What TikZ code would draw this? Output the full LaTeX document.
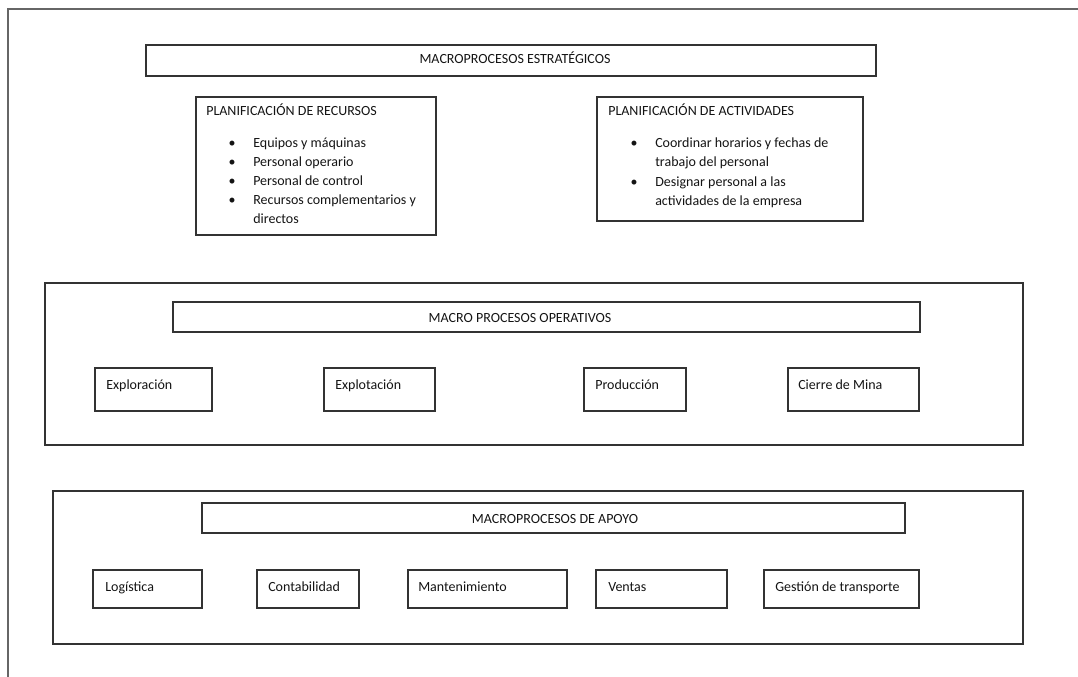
\documentclass[tikz,border=0pt]{standalone}
\usepackage{fontspec}
\setmainfont{Carlito}
\usetikzlibrary{fit}
\tikzset{
  boxst/.style={draw=black!80, line width=1.1pt, inner sep=0pt},
  frame/.style={draw=black!60, line width=1.5pt},
  txt/.style={anchor=base west, inner sep=0pt, font=\fontsize{10.5}{12}\selectfont, text=black!92},
  ctxt/.style={anchor=base, inner sep=0pt, font=\fontsize{10.5}{12}\selectfont, text=black!92},
  bul/.style={anchor=base, inner sep=0pt, font=\fontsize{10.5}{12}\selectfont, text=black!92}
}
\begin{document}
\begin{tikzpicture}[x=0.75pt, y=-0.75pt]
\useasboundingbox (0,0) rectangle (1078,677);
% outer frame (top and left sides only)
\coordinate (ftr) at (1078,9);
\coordinate (ftl) at (8,9);
\coordinate (fbl) at (8,677);
\draw[frame] (ftr) -- (ftl) -- (fbl);

% ---------- strategic ----------
\node[boxst, fit={(146,45) (876,76)}] (estr) {};
\node[ctxt] (estrT) at (515,64) {MACROPROCESOS ESTRATÉGICOS};

\node[boxst, fit={(196,97) (436,235)}] (recursos) {};
\node[txt] (recT) at (206,116) {PLANIFICACIÓN DE RECURSOS};
\node[bul] (rb1) at (232,148) {\textbullet};
\node[txt] (r1) at (253,148) {Equipos y máquinas};
\node[bul] (rb2) at (232,167) {\textbullet};
\node[txt] (r2) at (253,167) {Personal operario};
\node[bul] (rb3) at (232,186) {\textbullet};
\node[txt] (r3) at (253,186) {Personal de control};
\node[bul] (rb4) at (232,205) {\textbullet};
\node[txt] (r4) at (253,205) {Recursos complementarios y};
\node[txt] (r5) at (253,224) {directos};

\node[boxst, fit={(597,97) (863,221)}] (actividades) {};
\node[txt] (actT) at (608,116) {PLANIFICACIÓN DE ACTIVIDADES};
\node[bul] (ab1) at (634,148) {\textbullet};
\node[txt] (a1) at (655,148) {Coordinar horarios y fechas de};
\node[txt] (a2) at (655,167) {trabajo del personal};
\node[bul] (ab2) at (634,187) {\textbullet};
\node[txt] (a3) at (655,187) {Designar personal a las};
\node[txt] (a4) at (655,206) {actividades de la empresa};

% ---------- operative ----------
\node[boxst, fit={(45,283) (1023,445)}] (oper) {};
\node[boxst, fit={(173,302) (920,332)}] (operH) {};
\node[ctxt] (operT) at (520,322) {MACRO PROCESOS OPERATIVOS};

\node[boxst, fit={(95,368) (212,411)}] (explor) {};
\node[txt] (explorT) at (106,389) {Exploración};
\node[boxst, fit={(324,368) (435,411)}] (explot) {};
\node[txt] (explotT) at (335,389) {Explotación};
\node[boxst, fit={(584,368) (686,411)}] (prod) {};
\node[txt] (prodT) at (595,389) {Producción};
\node[boxst, fit={(788,368) (919,411)}] (cierre) {};
\node[txt] (cierreT) at (798,389) {Cierre de Mina};

% ---------- support ----------
\node[boxst, fit={(53,491) (1023,644)}] (apoyo) {};
\node[boxst, fit={(202,503) (905,533)}] (apoyoH) {};
\node[ctxt] (apoyoT) at (555,523) {MACROPROCESOS DE APOYO};

\node[boxst, fit={(93,570) (202,608)}] (log) {};
\node[txt] (logT) at (105,591) {Logística};
\node[boxst, fit={(257,570) (359,608)}] (cont) {};
\node[txt] (contT) at (268,591) {Contabilidad};
\node[boxst, fit={(408,570) (567,608)}] (mant) {};
\node[txt] (mantT) at (418,591) {Mantenimiento};
\node[boxst, fit={(596,570) (727,608)}] (vent) {};
\node[txt] (ventT) at (608,591) {Ventas};
\node[boxst, fit={(764,570) (919,608)}] (gest) {};
\node[txt] (gestT) at (775,591) {Gestión de transporte};
\end{tikzpicture}
\end{document}
